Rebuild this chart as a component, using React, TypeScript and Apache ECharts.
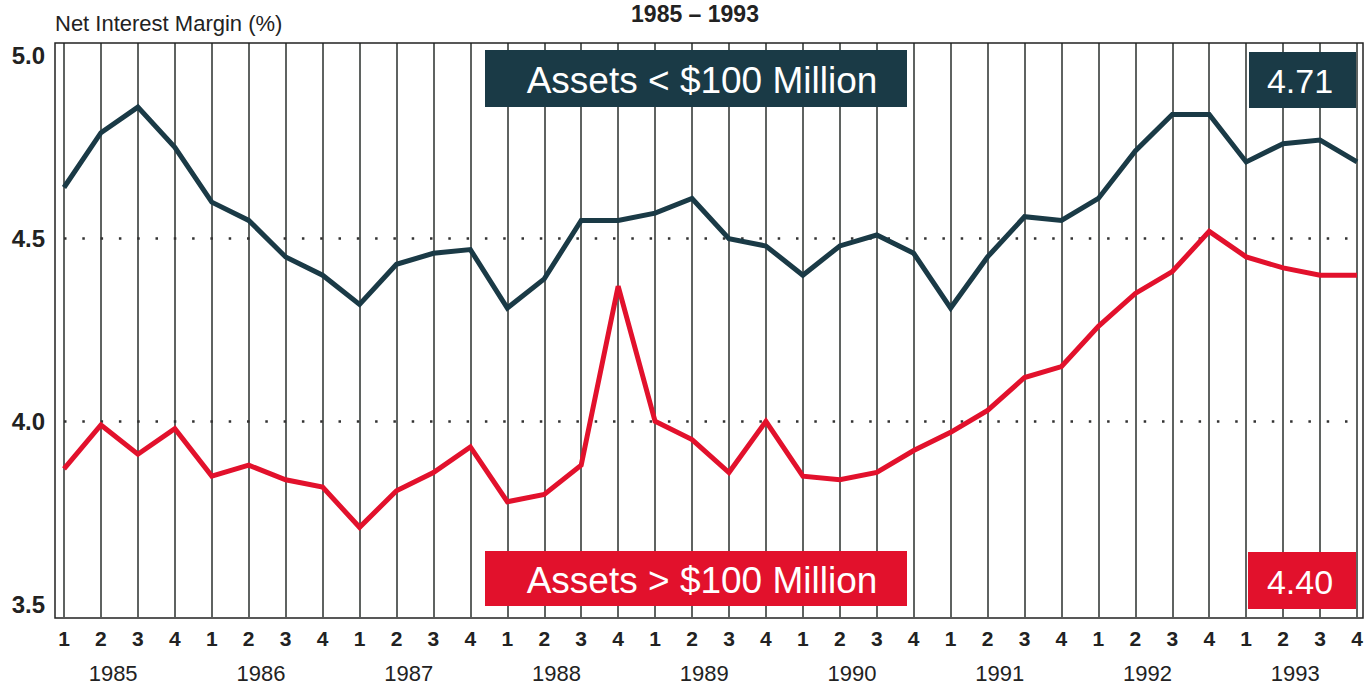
import React, { useEffect, useRef } from 'react';
import * as echarts from 'echarts';

// ---- data ----
const years = [1985, 1986, 1987, 1988, 1989, 1990, 1991, 1992, 1993];
const quarterLabels = ['1', '2', '3', '4'];
const categories = years.flatMap((y) => quarterLabels.map((q) => `${y} Q${q}`));

// Net interest margin (%), banks with assets < $100 million
const smallBanks = [
  4.64, 4.79, 4.86, 4.75, 4.60, 4.55, 4.45, 4.40, 4.32, 4.43, 4.46, 4.47,
  4.31, 4.39, 4.55, 4.55, 4.57, 4.61, 4.50, 4.48, 4.40, 4.48, 4.51, 4.46,
  4.31, 4.45, 4.56, 4.55, 4.61, 4.74, 4.84, 4.84, 4.71, 4.76, 4.77, 4.71,
];
// Net interest margin (%), banks with assets > $100 million
const largeBanks = [
  3.87, 3.99, 3.91, 3.98, 3.85, 3.88, 3.84, 3.82, 3.71, 3.81, 3.86, 3.93,
  3.78, 3.80, 3.88, 4.37, 4.00, 3.95, 3.86, 4.00, 3.85, 3.84, 3.86, 3.92,
  3.97, 4.03, 4.12, 4.15, 4.26, 4.35, 4.41, 4.52, 4.45, 4.42, 4.40, 4.40,
];

const yTickValues = [3.5, 4.0, 4.5, 5.0];
const dottedLevels = [4.0, 4.5];
const smallLabel = 'Assets < $100 Million';
const largeLabel = 'Assets > $100 Million';
const yAxisTitle = 'Net Interest Margin (%)';
const chartTitle = `${years[0]} – ${years[years.length - 1]}`;

// ---- styles ----
const FONT = '"Liberation Sans", Arial, Helvetica, sans-serif';
const DARK = '#1a3a46';
const RED = '#e2112c';
const INK = '#222';

export default function App() {
  const ref = useRef<HTMLDivElement>(null);

  useEffect(() => {
    if (!ref.current) return;
    const chart = echarts.init(ref.current, null, { renderer: 'svg' });

    const lastSmall = smallBanks[smallBanks.length - 1].toFixed(2);
    const lastLarge = largeBanks[largeBanks.length - 1].toFixed(2);

    const boxText = (text: string, cx: number, cy: number, size: number) => ({
      type: 'text',
      z: 101,
      x: cx,
      y: cy,
      style: {
        text,
        fill: '#fff',
        fontSize: size,
        fontFamily: FONT,
        align: 'center',
        verticalAlign: 'middle',
        textAlign: 'center',
        textVerticalAlign: 'middle',
      },
    });

    chart.setOption({
      animation: false,
      backgroundColor: '#fff',
      grid: { left: 64, right: 15, top: 43, bottom: 66, containLabel: false },
      xAxis: [
        {
          type: 'category',
          data: categories,
          boundaryGap: false,
          axisLine: { show: false },
          axisTick: { show: false },
          axisLabel: {
            interval: 0,
            margin: 11,
            color: INK,
            fontSize: 21,
            fontWeight: 'bold',
            fontFamily: FONT,
            formatter: (v: string) => v.split('Q')[1],
          },
          splitLine: {
            show: true,
            interval: 0,
            lineStyle: { color: '#2a2f2c', width: 1.5 },
          },
        },
        {
          type: 'value',
          position: 'bottom',
          offset: 40,
          min: 0,
          max: categories.length - 1,
          axisLine: { show: false },
          axisTick: { show: false },
          splitLine: { show: false },
          axisLabel: {
            customValues: years.map((_, k) => k * 4 + 1.33),
            margin: 5,
            color: INK,
            fontSize: 22,
            fontFamily: FONT,
            formatter: (v: number) => String(years[Math.round((v - 1.33) / 4)]),
          },
        },
      ],
      yAxis: {
        type: 'value',
        min: 3.4645,
        max: 5.0355,
        axisLine: { show: false },
        axisTick: { show: false },
        splitLine: { show: false },
        axisLabel: {
          customValues: yTickValues,
          margin: 19,
          color: INK,
          fontSize: 24,
          fontWeight: 'bold',
          fontFamily: FONT,
          formatter: (v: number) => v.toFixed(1),
        },
      },
      series: [
        {
          name: smallLabel,
          type: 'line',
          data: smallBanks,
          symbol: 'none',
          z: 5,
          lineStyle: { color: DARK, width: 5, join: 'miter' },
          markLine: {
            silent: true,
            symbol: 'none',
            label: { show: false },
            lineStyle: { color: '#333', width: 2.5, type: [2.5, 15.8] },
            data: dottedLevels.map((v) => ({ yAxis: v })),
          },
        },
        {
          name: largeLabel,
          type: 'line',
          data: largeBanks,
          symbol: 'none',
          z: 5,
          lineStyle: { color: RED, width: 5, join: 'miter' },
        },
      ],
      graphic: [
        {
          type: 'rect',
          z: 50,
          shape: { x: 55, y: 43, width: 1308, height: 575 },
          style: { fill: 'none', stroke: INK, lineWidth: 1.5 },
        },
        {
          type: 'text',
          x: 55,
          y: 23,
          style: {
            text: yAxisTitle,
            fill: INK,
            fontSize: 22,
            fontFamily: FONT,
            align: 'left',
            verticalAlign: 'middle',
            textAlign: 'left',
            textVerticalAlign: 'middle',
          },
        },
        {
          type: 'text',
          x: 695,
          y: 14,
          style: {
            text: chartTitle,
            fill: INK,
            fontSize: 23,
            fontWeight: 'bold',
            fontFamily: FONT,
            align: 'center',
            verticalAlign: 'middle',
            textAlign: 'center',
            textVerticalAlign: 'middle',
          },
        },
        {
          type: 'rect',
          z: 100,
          shape: { x: 485, y: 50, width: 422, height: 57 },
          style: { fill: DARK },
        },
        boxText(smallLabel, 702, 80, 37),
        {
          type: 'rect',
          z: 100,
          shape: { x: 1249, y: 52, width: 107, height: 56 },
          style: { fill: DARK },
        },
        boxText(lastSmall, 1300, 81, 34),
        {
          type: 'rect',
          z: 100,
          shape: { x: 485, y: 551, width: 422, height: 55 },
          style: { fill: RED },
        },
        boxText(largeLabel, 702, 580, 37),
        {
          type: 'rect',
          z: 100,
          shape: { x: 1248, y: 552, width: 108, height: 57 },
          style: { fill: RED },
        },
        boxText(lastLarge, 1300, 582, 34),
      ],
    });

    return () => chart.dispose();
  }, []);

  return (
    <div
      ref={ref}
      style={{ position: 'fixed', left: 0, top: 0, width: 1372, height: 684, background: '#fff' }}
    />
  );
}
